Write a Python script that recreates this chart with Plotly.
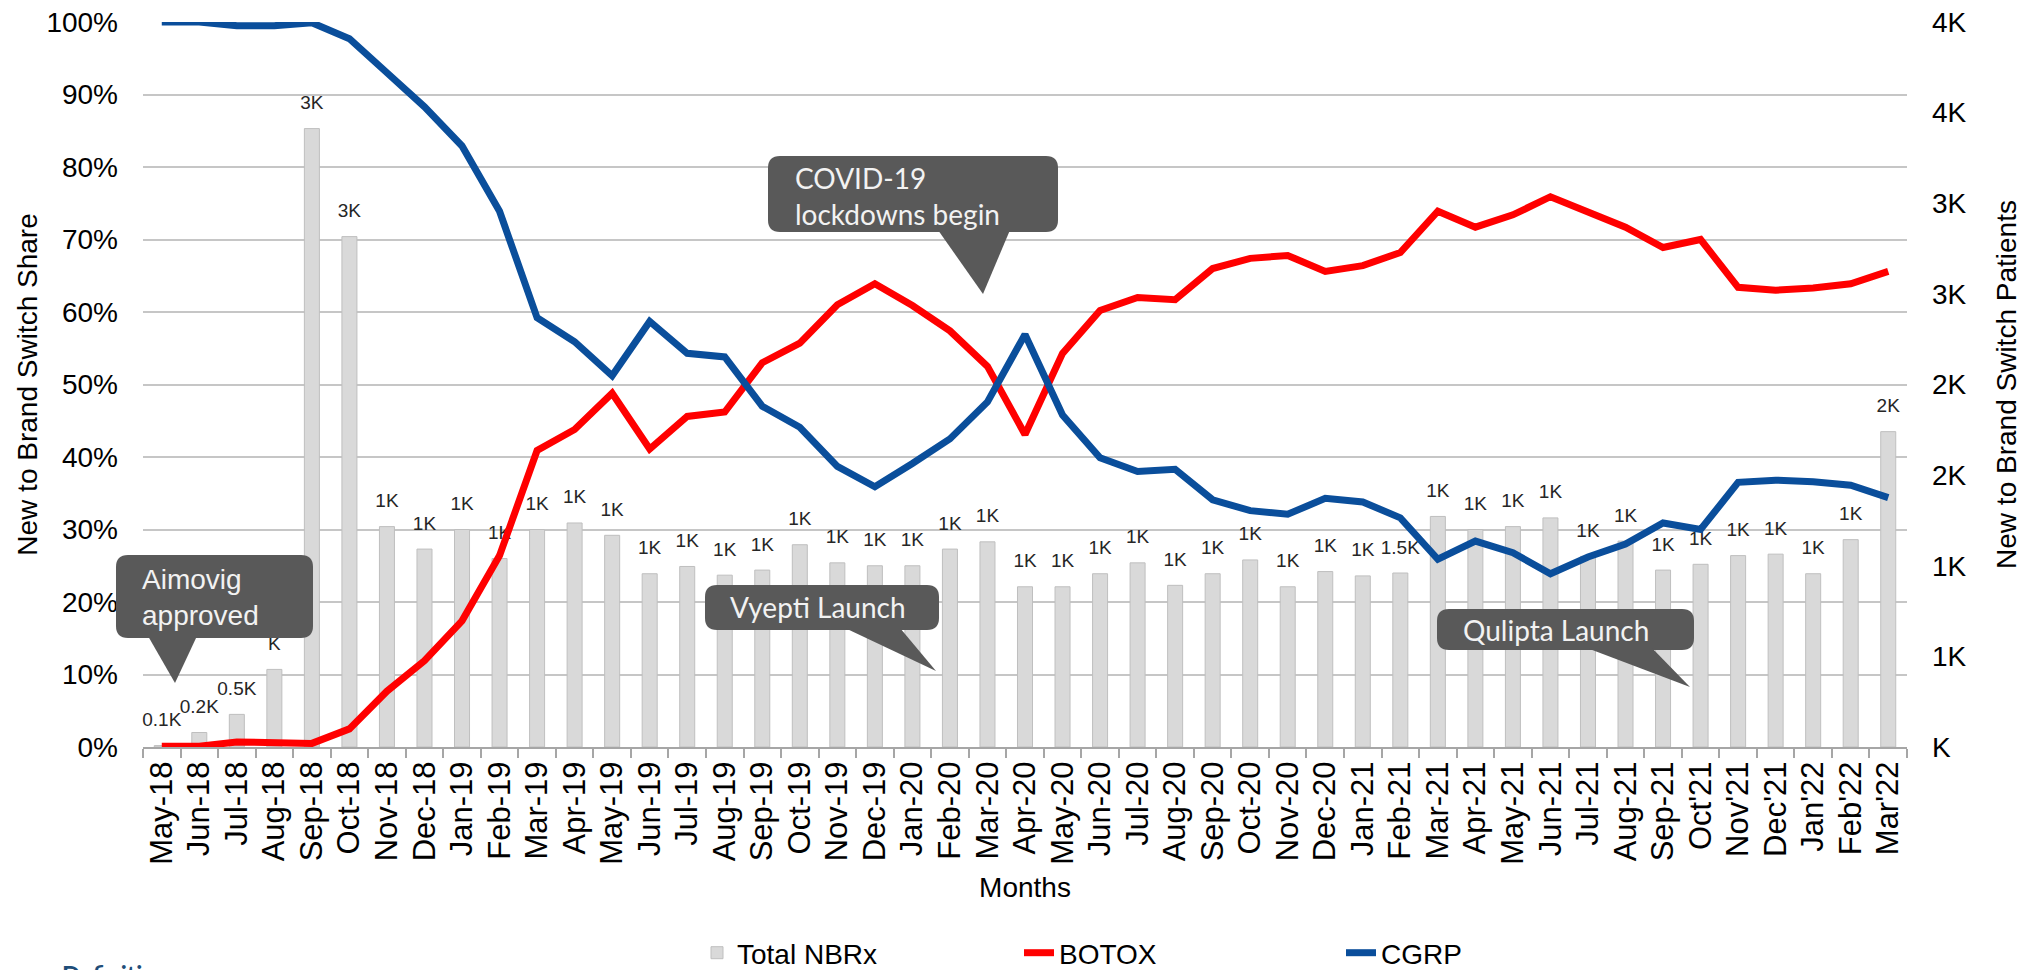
import plotly.graph_objects as go

# ---------------- data ----------------
months = ["May-18", "Jun-18", "Jul-18", "Aug-18", "Sep-18", "Oct-18", "Nov-18", "Dec-18",
          "Jan-19", "Feb-19", "Mar-19", "Apr-19", "May-19", "Jun-19", "Jul-19", "Aug-19",
          "Sep-19", "Oct-19", "Nov-19", "Dec-19", "Jan-20", "Feb-20", "Mar-20", "Apr-20",
          "May-20", "Jun-20", "Jul-20", "Aug-20", "Sep-20", "Oct-20", "Nov-20", "Dec-20",
          "Jan-21", "Feb-21", "Mar-21", "Apr-21", "May-21", "Jun-21", "Jul-21", "Aug-21",
          "Sep-21", "Oct'21", "Nov'21", "Dec'21", "Jan'22", "Feb'22", "Mar'22"]

total_nbrx = [8, 80, 180, 428, 3412, 2816, 1216, 1092, 1200, 1040, 1200, 1236,
              1168, 956, 996, 948, 976, 1116, 1016, 1000, 1000, 1092, 1132, 884,
              884, 956, 1016, 892, 956, 1032, 884, 968, 944, 960, 1272, 1200,
              1216, 1264, 1052, 1136, 976, 1008, 1056, 1064, 956, 1144, 1740]

nbrx_labels = ["0.1K", "0.2K", "0.5K", "K", "3K", "3K", "1K", "1K", "1K", "1K", "1K", "1K",
               "1K", "1K", "1K", "1K", "1K", "1K", "1K", "1K", "1K", "1K", "1K", "1K",
               "1K", "1K", "1K", "1K", "1K", "1K", "1K", "1K", "1K", "1.5K", "1K", "1K",
               "1K", "1K", "1K", "1K", "1K", "1K", "1K", "1K", "1K", "1K", "2K"]

botox = [0.1, 0.1, 0.7, 0.5, 0.5, 2.5, 7.7, 11.9, 17.4, 26.4, 40.9, 43.8,
         48.8, 41.1, 45.6, 46.2, 53.0, 55.7, 61.0, 63.9, 60.9, 57.4, 52.5, 43.1,
         54.3, 60.2, 62.0, 61.7, 66.0, 67.4, 67.8, 65.6, 66.4, 68.2, 73.9, 71.7,
         73.4, 75.9, 73.8, 71.7, 68.9, 70.0, 63.4, 63.0, 63.3, 63.9, 65.6]

cgrp = [100, 100, 99.5, 99.5, 99.9, 97.7, 93.0, 88.3, 82.9, 73.9, 59.2, 55.9,
        51.2, 58.7, 54.3, 53.8, 47.0, 44.1, 38.7, 35.9, 39.1, 42.5, 47.6, 56.9,
        45.8, 39.9, 38.0, 38.3, 34.1, 32.6, 32.1, 34.3, 33.8, 31.6, 25.9, 28.4,
        26.8, 23.9, 26.2, 28.0, 30.9, 30.0, 36.5, 36.8, 36.6, 36.1, 34.4]

share_ticks = [0, 10, 20, 30, 40, 50, 60, 70, 80, 90, 100]
share_ticktext = ["0%", "10%", "20%", "30%", "40%", "50%", "60%", "70%", "80%", "90%", "100%"]
patient_ticks = [0, 500, 1000, 1500, 2000, 2500, 3000, 3500, 4000]
patient_ticktext = ["K", "1K", "1K", "2K", "2K", "3K", "3K", "4K", "4K"]

# ---------------- styling ----------------
W, H = 2033, 970
L, R, T, B = 143, 1907, 22, 747          # plot area in pixels
ARIAL = "Arial, 'Liberation Sans', sans-serif"
CALIBRI = "Lato, 'Open Sans', sans-serif"
BOX = "#595959"


def X(px):
    return (px - L) / (R - L)


def Y(py):
    return (B - py) / (B - T)


def P(px, py):
    return f"{X(px):.5f},{Y(py):.5f}"


def rounded_rect(x0, y0, x1, y1, r):
    return (f"M{P(x0 + r, y0)} L{P(x1 - r, y0)} Q{P(x1, y0)} {P(x1, y0 + r)} "
            f"L{P(x1, y1 - r)} Q{P(x1, y1)} {P(x1 - r, y1)} L{P(x0 + r, y1)} "
            f"Q{P(x0, y1)} {P(x0, y1 - r)} L{P(x0, y0 + r)} Q{P(x0, y0)} {P(x0 + r, y0)} Z")


def pointer(b0, b1, by, tip):
    return f"M{P(b0, by - 2)} L{P(tip[0], tip[1])} L{P(b1, by - 2)} Z"


fig = go.Figure()

fig.add_trace(go.Bar(
    x=months, y=total_nbrx, name="Total NBRx", yaxis="y",
    marker=dict(color="#D9D9D9", line=dict(color="#BFBFBF", width=1)),
    width=0.4, hoverinfo="skip",
))
fig.add_trace(go.Scatter(
    x=months, y=total_nbrx, yaxis="y", mode="markers+text", text=nbrx_labels,
    textposition="top center", textfont=dict(family=ARIAL, size=19, color="#262626"),
    marker=dict(size=22, opacity=0), showlegend=False, cliponaxis=False, hoverinfo="skip",
))
fig.add_trace(go.Scatter(
    x=months, y=botox, name="BOTOX", yaxis="y2", mode="lines",
    line=dict(color="#FF0000", width=7), cliponaxis=False, hoverinfo="skip",
))
fig.add_trace(go.Scatter(
    x=months, y=cgrp, name="CGRP", yaxis="y2", mode="lines",
    line=dict(color="#0A4E9B", width=7), cliponaxis=False, hoverinfo="skip",
))

shapes = []
callouts = [
    ((116, 555, 313, 638), (148, 197, 638, (175, 683))),
    ((768, 156, 1058, 232), (938, 1010, 232, (983, 294))),
    ((705, 585, 939, 630), (845, 900, 630, (936, 671))),
    ((1437, 609, 1694, 650), (1587, 1652, 650, (1690, 687))),
]
for (x0, y0, x1, y1), (b0, b1, by, tip) in callouts:
    shapes.append(dict(type="path", xref="paper", yref="paper", path=rounded_rect(x0, y0, x1, y1, 12),
                       fillcolor=BOX, line=dict(width=0), layer="above"))
    shapes.append(dict(type="path", xref="paper", yref="paper", path=pointer(b0, b1, by, tip),
                       fillcolor=BOX, line=dict(width=0), layer="above"))

annotations = [
    dict(text="Aimovig<br>approved", x=X(140), y=Y(597), xanchor="left", yanchor="middle", align="left",
         font=dict(family=ARIAL, size=28, color="#F2F2F2")),
    dict(text="COVID-19<br>lockdowns begin", x=X(793), y=Y(196), xanchor="left", yanchor="middle",
         align="left", font=dict(family=CALIBRI, size=28, color="#F2F2F2")),
    dict(text="Vyepti Launch", x=X(818), y=Y(607), xanchor="center", yanchor="middle",
         font=dict(family=CALIBRI, size=28, color="#F2F2F2")),
    dict(text="Qulipta Launch", x=X(1556), y=Y(630), xanchor="center", yanchor="middle",
         font=dict(family=CALIBRI, size=28, color="#F2F2F2")),
    dict(text="<b>Definitions:</b>", x=X(60), y=Y(958), xanchor="left", yanchor="top",
         font=dict(family=CALIBRI, size=24, color="#1F4E79")),
]
for a in annotations:
    a.update(xref="paper", yref="paper", showarrow=False)

fig.update_layout(
    width=W, height=H,
    margin=dict(l=L, r=W - R, t=T, b=H - B, autoexpand=False),
    paper_bgcolor="white", plot_bgcolor="white",
    font=dict(family=ARIAL, size=28, color="#000000"),
    xaxis=dict(type="category", range=[-0.5, len(months) - 0.5], tickmode="array",
               tickvals=months, ticktext=months, tickangle=-90, ticks="outside",
               tickson="boundaries", ticklen=9,
               tickcolor="#A6A6A6", tickwidth=2, showline=True, linecolor="#A6A6A6", linewidth=2,
               showgrid=False, tickfont=dict(size=31),
               title=dict(text="Months", standoff=14, font=dict(size=28))),
    yaxis=dict(side="right", range=[0, 4000], tickmode="array", tickvals=patient_ticks,
               ticktext=patient_ticktext,
               showgrid=False, zeroline=False, showline=False, ticklabelstandoff=24,
               tickfont=dict(size=28),
               title=dict(text="New to Brand Switch Patients", standoff=30, font=dict(size=28))),
    yaxis2=dict(side="left", overlaying="y", range=[0, 100], tickmode="array", tickvals=share_ticks,
                ticktext=share_ticktext,
                showgrid=True, gridcolor="#C6C6C6", gridwidth=2, zeroline=False, showline=False,
                ticklabelstandoff=24, tickfont=dict(size=28),
                title=dict(text="New to Brand Switch Share", standoff=0, font=dict(size=28))),
    legend=dict(orientation="h", x=X(697), xanchor="left", y=Y(953), yanchor="middle",
                font=dict(size=28), entrywidth=277, bgcolor="rgba(0,0,0,0)"),
    shapes=shapes,
    annotations=annotations,
    showlegend=True,
)

fig.write_html("out.html")
